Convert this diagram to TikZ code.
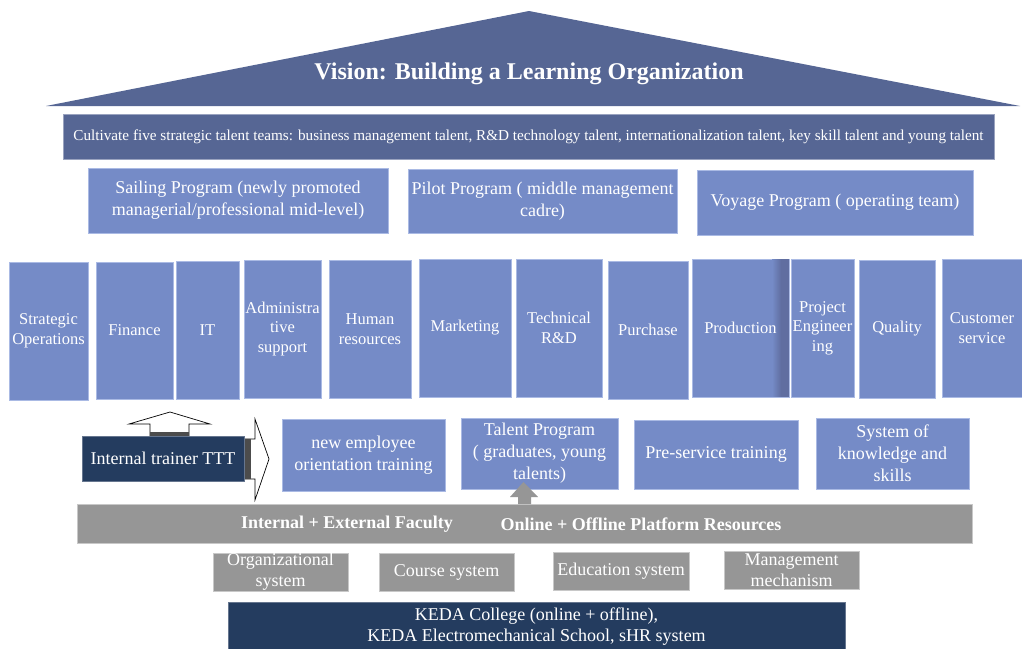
\documentclass[tikz,border=0pt]{standalone}
\usepackage{fontspec}
\setmainfont{Liberation Serif}
\usetikzlibrary{calc}
\pgfdeclarelayer{background}
\pgfsetlayers{background,main}

\definecolor{roofblue}{RGB}{86,102,148}
\definecolor{boxblue}{RGB}{117,139,199}
\definecolor{boxedge}{RGB}{170,186,228}
\definecolor{navy}{RGB}{36,60,95}
\definecolor{bargray}{RGB}{150,150,150}
\definecolor{grayedge}{RGB}{200,200,200}
\definecolor{darkstrip}{RGB}{96,110,160}

\tikzset{
  base/.style={inner sep=0pt, align=center, text=white},
  colbox/.style={base, fill=boxblue, draw=boxedge, line width=0.8pt,
    font=\fontsize{16.5}{19.5}\selectfont},
  progbox/.style={base, fill=boxblue, draw=boxedge, line width=0.8pt,
    font=\fontsize{18}{22}\selectfont},
  navybox/.style={base, fill=navy, draw=navy!70!white, line width=0.6pt,
    font=\fontsize{18}{21}\selectfont},
  graybox/.style={base, fill=bargray, draw=grayedge, line width=0.8pt,
    font=\fontsize{18}{21}\selectfont},
  bartext/.style={base, font=\fontsize{18}{21}\selectfont\bfseries},
  blockarrow/.style={fill=white, draw=black, line width=0.7pt, line join=miter},
}

% box from corner (x1,y1) to corner (x2,y2), in pixel units
\newcommand{\rbox}[7]{%
  \node[#1, minimum width={#5-#3}, minimum height={#6-#4}] (#2)
    at ({(#3+#5)/2},{(#4+#6)/2}) {#7};}

\begin{document}
\begin{tikzpicture}[x=1pt, y=-1pt]
\useasboundingbox (0,0) rectangle (1022,648);
\fill[white] (0,0) rectangle (1022,648);

% roof
\fill[roofblue] (46,106) -- (529,11) -- (1020,106) -- cycle;
\node[base, font=\fontsize{24}{28}\selectfont\bfseries] (vision) at (529,74)
  {Vision: Building a Learning Organization};

% strategic talent banner
\rbox{progbox, fill=roofblue, draw=roofblue!60!white, font=\fontsize{15.2}{17}\selectfont}{banner}{63}{114}{994}{159}
  {Cultivate five strategic talent teams: business management talent, R\&D technology talent, internationalization talent, key skill talent and young talent}

% programmes
\rbox{progbox}{sailing}{88}{168}{388}{233}{Sailing Program (newly promoted\\managerial/professional mid-level)}
\rbox{progbox}{pilot}{408}{169}{677}{233}{Pilot Program ( middle management\\cadre)}
\rbox{progbox}{voyage}{697}{170}{973}{235}{Voyage Program ( operating team)}

% functional columns
\rbox{colbox}{c1}{9}{262}{88}{400}{Strategic\\Operations}
\rbox{colbox}{c2}{96}{262}{173}{399}{Finance}
\rbox{colbox}{c3}{176}{261}{239}{399}{IT}
\rbox{colbox}{c4}{244}{260}{321}{398}{Administra\\tive\\support}
\rbox{colbox}{c5}{329}{260}{411}{398}{Human\\resources}
\rbox{colbox}{c6}{419}{259}{511}{397}{Marketing}
\rbox{colbox}{c7}{516}{259}{602}{397}{Technical\\R\&D}
\rbox{colbox}{c8}{608}{261}{688}{399}{Purchase}
\rbox{colbox}{c9}{692}{259}{789}{397}{}
\shade[left color=boxblue, right color=darkstrip] (772,259.4) rectangle (781,396.6);
\fill[darkstrip] (781,259.4) rectangle (788.6,396.6);
\node[base, font=\fontsize{16.5}{19.5}\selectfont] at (c9) {Production};
\rbox{colbox}{c10}{791}{259}{854}{397}{Project\\Engineer\\ing}
\rbox{colbox}{c11}{859}{260}{935}{398}{Quality}
\rbox{colbox}{c12}{942}{259}{1022}{397}{Customer\\service}

% soft haze around the columns
\begin{pgfonlayer}{background}
  \foreach \n in {c1,c2,c3,c4,c5,c6,c7,c8,c9,c10,c11,c12}{
    \foreach \k in {3,6,...,18}{
      \fill[black, opacity=0.014]
        ([xshift=-1pt, yshift=\k pt]\n.north west) rectangle
        ([xshift=1pt, yshift=-\k pt]\n.south east);
    }
  }
\end{pgfonlayer}

% internal trainer with its block arrows
\draw[blockarrow] (150,436) -- (150,424) -- (129,424) -- (170,412)
  -- (210,424) -- (189,424) -- (189,436);
\draw[blockarrow] (244,439) -- (255,439) -- (255,419) -- (269,459)
  -- (255,500) -- (255,479) -- (244,479);
\fill[black!70] (150,431.5) rectangle (189,436);
\fill[black!70] (243,439) rectangle (251,479);
\rbox{navybox}{trainer}{82}{436}{244}{481}{Internal trainer TTT}

% training programmes
\rbox{progbox}{newemp}{282}{419}{445}{491}{new employee\\orientation training}
\rbox{progbox}{talent}{461}{418}{618}{489}{Talent Program\\( graduates, young\\talents)}
\rbox{progbox}{preserv}{634}{420}{798}{489}{Pre-service training}
\rbox{progbox}{knowl}{816}{418}{969}{489}{System of\\knowledge and\\skills}

% faculty and platform bar
\rbox{graybox}{bar}{77}{504}{972}{543}{}
\node[bartext] (faculty) at (347,524) {Internal + External Faculty};
\node[bartext] (platform) at (641,524) {Online + Offline Platform Resources};

% support arrow from the bar to the talent programme
\fill[bargray] (518,504) -- (518,497) -- (510,497) -- (523.5,482)
  -- (538,497) -- (531,497) -- (531,504) -- cycle;

% systems
\rbox{graybox}{org}{213}{553}{348}{591}{Organizational\\system}
\rbox{graybox}{course}{379}{553}{514}{591}{Course system}
\rbox{graybox}{edu}{553}{552}{689}{590}{Education system}
\rbox{graybox}{mgmt}{724}{551}{859}{589}{Management\\mechanism}

% foundation
\rbox{navybox}{keda}{228}{602}{845}{651}{}
\node[base, font=\fontsize{18}{21}\selectfont] (kedatext) at (536.5,627)
  {KEDA College (online + offline),\\KEDA Electromechanical School, sHR system};
\end{tikzpicture}
\end{document}
